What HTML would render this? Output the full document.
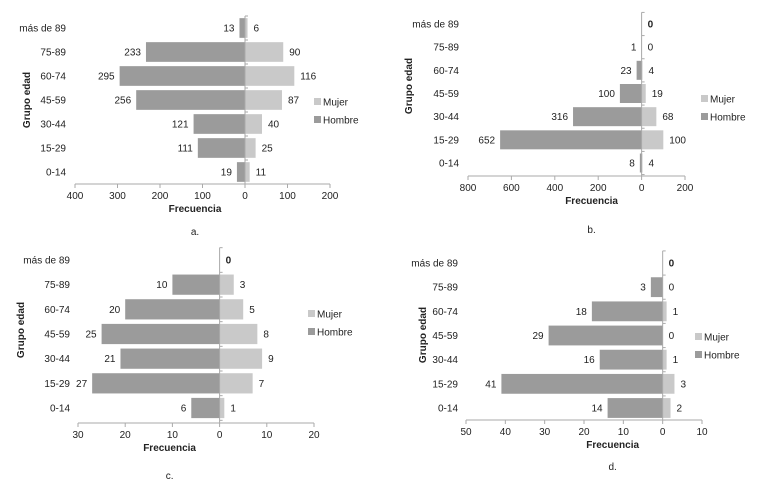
<!DOCTYPE html>
<html><head><meta charset="utf-8"><style>
body{margin:0;background:#fff;width:778px;height:496px;overflow:hidden}
svg{font-family:"Liberation Sans",sans-serif;font-size:10px;fill:#222}
</style></head><body>
<svg id="c" width="778" height="496" viewBox="0 0 778 496"></svg>
<script>
const categories=["más de 89","75-89","60-74","45-59","30-44","15-29","0-14"];
const hombreA=[13,233,295,256,121,111,19];
const mujerA=[6,90,116,87,40,25,11];
const hombreB=[0,1,23,100,316,652,8];
const mujerB=[0,0,4,19,68,100,4];
const hombreC=[0,10,20,25,21,27,6];
const mujerC=[0,3,5,8,9,7,1];
const hombreD=[0,3,18,29,16,41,14];
const mujerD=[0,0,1,0,1,3,2];
const ticksA=[400,300,200,100,0,100,200];
const ticksB=[800,600,400,200,0,200];
const ticksC=[30,20,10,0,10,20];
const ticksD=[50,40,30,20,10,0,10];
const panels=[
 {id:"a",h:hombreA,m:mujerA,t:ticksA,min:-400,max:200,x0:75,x1:330,yTop:28,yBot:172,axisY:184,labX:66,gx:30,gy:100,legX:322,legY:102,cap:"a.",capY:235,hideZero:false},
 {id:"b",h:hombreB,m:mujerB,t:ticksB,min:-800,max:200,x0:468,x1:685,yTop:24,yBot:163,axisY:176,labX:459,gx:412,gy:86,legX:709,legY:99,cap:"b.",capY:233,hideZero:true},
 {id:"c",h:hombreC,m:mujerC,t:ticksC,min:-30,max:20,x0:78,x1:314,yTop:260,yBot:408,axisY:423,labX:70,gx:24,gy:330,legX:316,legY:314,cap:"c.",capY:479,hideZero:true},
 {id:"d",h:hombreD,m:mujerD,t:ticksD,min:-50,max:10,x0:466,x1:702,yTop:263,yBot:408,axisY:420,labX:458,gx:426,gy:335,legX:703,legY:337,cap:"d.",capY:470,hideZero:true}
];
const svg=document.getElementById('c');
const NS="http://www.w3.org/2000/svg";
function mk(tag,attrs,parent,text){const e=document.createElementNS(NS,tag);for(const k in attrs)e.setAttribute(k,attrs[k]);if(text!==undefined)e.textContent=text;parent.appendChild(e);return e;}
panels.forEach(p=>{
 const g=mk('g',{},svg);
 
 
 const sx=v=>p.x0+(v-p.min)/(p.max-p.min)*(p.x1-p.x0);
 const step=(p.yBot-p.yTop)/(categories.length-1);
 const sy=i=>p.yTop+i*step;
 const bh=step*0.82;
 const zx=sx(0);
 categories.forEach((c,i)=>{
  const y=sy(i);
  const l=mk('text',{x:p.labX,y:y+3.5,'text-anchor':'end'},g,c);
  
  
  const hv=p.h[i],mv=p.m[i];
  const hb=mk('rect',{x:sx(-hv),y:y-bh/2,width:zx-sx(-hv),height:bh,fill:'#9b9b9b'},g);
  
  
  const mb=mk('rect',{x:zx,y:y-bh/2,width:sx(mv)-zx,height:bh,fill:'#c9c9c9'},g);
  
  
  if(!(p.hideZero&&hv===0)){
   const t=mk('text',{x:sx(-hv)-5,y:y+3.5,'text-anchor':'end'},g,hv);
   
   
  }
  const t2=mk('text',{x:sx(mv)+6,y:y+3.5,'font-weight':(hv===0&&mv===0)?'bold':'normal'},g,mv);
  
  
 });
 mk('line',{x1:zx,x2:zx,y1:p.yTop-step/2,y2:p.axisY,stroke:'#aaa','stroke-width':1},g);
 for(let i=0;i<=categories.length;i++){const y=p.yTop-step/2+i*step;mk('line',{x1:zx,x2:zx+3,y1:y,y2:y,stroke:'#aaa'},g);}
 const ax=mk('line',{x1:p.x0,x2:p.x1,y1:p.axisY,y2:p.axisY,stroke:'#aaa','stroke-width':1},g);
 
 
 p.t.forEach((tv,i)=>{
  const v=i<p.t.indexOf(0)?-tv:tv;
  const x=sx(v);
  mk('line',{x1:x,x2:x,y1:p.axisY,y2:p.axisY+4,stroke:'#aaa'},g);
  const tl=mk('text',{x:x,y:p.axisY+15,'text-anchor':'middle'},g,tv);
  
  
 });
 const xt=mk('text',{x:zx-50,y:p.axisY+28,'text-anchor':'middle','font-weight':'bold'},g,'Frecuencia');
 
 
 const yt=mk('text',{x:0,y:0,'text-anchor':'middle','font-weight':'bold',transform:`translate(${p.gx},${p.gy}) rotate(-90)`},g,'Grupo edad');
 
 
 [['Mujer','#c9c9c9',p.legY],['Hombre','#9b9b9b',p.legY+18]].forEach(([n,c,y])=>{
  const le=mk('g',{},g);
  
  
  mk('rect',{x:p.legX-8,y:y-4,width:7,height:7,fill:c},le);
  mk('text',{x:p.legX+1,y:y+3.5},le,n);
 });
 const cp=mk('text',{x:zx-50,y:p.capY,'text-anchor':'middle'},g,p.cap);
 
 
});
</script>
</body></html>
